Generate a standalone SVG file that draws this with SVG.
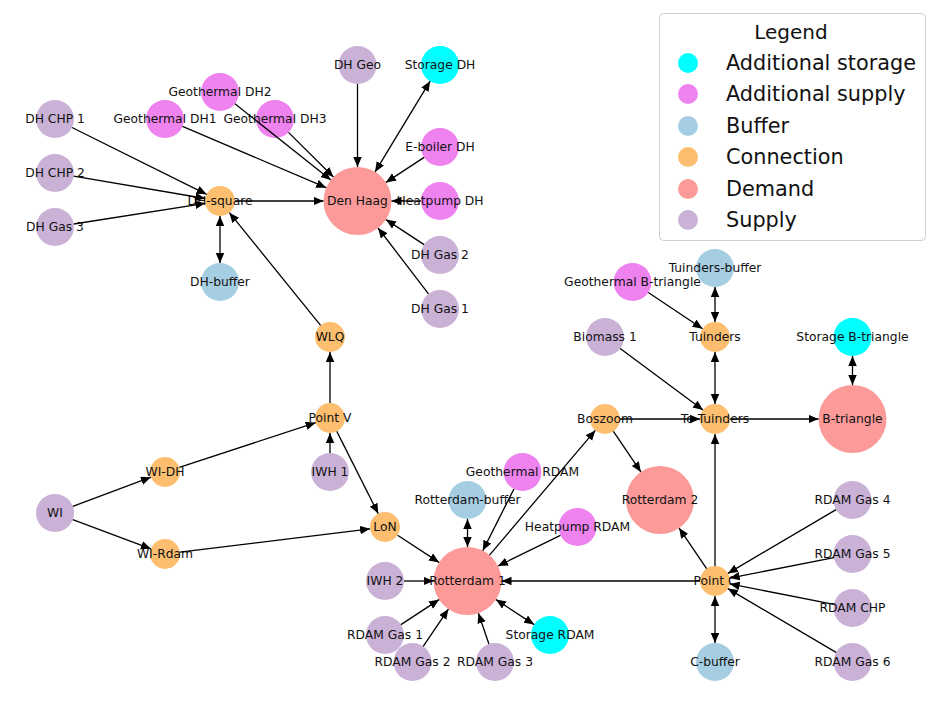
<svg xmlns="http://www.w3.org/2000/svg" width="940" height="702" viewBox="0 0 940 702">
<style>
text{font-family:"DejaVu Sans","Liberation Sans",sans-serif;fill:#111}
.lbl{font-size:12.3px;text-anchor:middle;dominant-baseline:central}
.leg{font-size:20.8px;dominant-baseline:central}
.sup{fill:#cab2d6}.add{fill:#ee82ee}.buf{fill:#a6cee3}.con{fill:#fdbf6f}.dem{fill:#fb9a99}.sto{fill:#00ffff}
#edges line{stroke:#000;stroke-width:1.3;marker-end:url(#ah)}
#edges line.bi{marker-start:url(#ah)}
</style>
<defs>
<marker id="ah" markerUnits="userSpaceOnUse" markerWidth="11" markerHeight="9" refX="10" refY="4.25" orient="auto-start-reverse"><path d="M0,0 L10,4.25 L0,8.5 z" fill="#000"/></marker>
</defs>
<rect width="940" height="702" fill="#fff"/>
<g id="nodes">
<g id="n-dhchp1"><circle class="sup" cx="55" cy="119" r="19"/><text class="lbl" x="55" y="119">DH CHP 1</text></g>
<g id="n-dhchp2"><circle class="sup" cx="55" cy="173" r="19"/><text class="lbl" x="55" y="173">DH CHP 2</text></g>
<g id="n-dhgas3"><circle class="sup" cx="55" cy="227" r="19"/><text class="lbl" x="55" y="227">DH Gas 3</text></g>
<g id="n-geodh2"><circle class="add" cx="220" cy="92" r="19"/><text class="lbl" x="220" y="92">Geothermal DH2</text></g>
<g id="n-geodh1"><circle class="add" cx="165" cy="119" r="19"/><text class="lbl" x="165" y="119">Geothermal DH1</text></g>
<g id="n-geodh3"><circle class="add" cx="275" cy="119" r="19"/><text class="lbl" x="275" y="119">Geothermal DH3</text></g>
<g id="n-dhsquare"><circle class="con" cx="220" cy="201" r="15"/><text class="lbl" x="220" y="201">DH-square</text></g>
<g id="n-dhbuffer"><circle class="buf" cx="220" cy="282" r="19"/><text class="lbl" x="220" y="282">DH-buffer</text></g>
<g id="n-dhgeo"><circle class="sup" cx="357.5" cy="65" r="19"/><text class="lbl" x="357.5" y="65">DH Geo</text></g>
<g id="n-storagedh"><circle class="sto" cx="440" cy="65" r="19"/><text class="lbl" x="440" y="65">Storage DH</text></g>
<g id="n-eboilerdh"><circle class="add" cx="440" cy="147" r="19"/><text class="lbl" x="440" y="147">E-boiler DH</text></g>
<g id="n-denhaag"><circle class="dem" cx="357.5" cy="201" r="34"/><text class="lbl" x="357.5" y="201">Den Haag</text></g>
<g id="n-heatpumpdh"><circle class="add" cx="440" cy="201" r="19"/><text class="lbl" x="440" y="201">Heatpump DH</text></g>
<g id="n-dhgas2"><circle class="sup" cx="440" cy="255" r="19"/><text class="lbl" x="440" y="255">DH Gas 2</text></g>
<g id="n-dhgas1"><circle class="sup" cx="440" cy="309" r="19"/><text class="lbl" x="440" y="309">DH Gas 1</text></g>
<g id="n-wlq"><circle class="con" cx="330" cy="337" r="15"/><text class="lbl" x="330" y="337">WLQ</text></g>
<g id="n-pointv"><circle class="con" cx="330" cy="418" r="15"/><text class="lbl" x="330" y="418">Point V</text></g>
<g id="n-iwh1"><circle class="sup" cx="330" cy="472" r="19"/><text class="lbl" x="330" y="472">IWH 1</text></g>
<g id="n-widh"><circle class="con" cx="165" cy="472" r="15"/><text class="lbl" x="165" y="472">WI-DH</text></g>
<g id="n-wi"><circle class="sup" cx="55" cy="513" r="19"/><text class="lbl" x="55" y="513">WI</text></g>
<g id="n-wirdam"><circle class="con" cx="165" cy="554" r="15"/><text class="lbl" x="165" y="554">WI-Rdam</text></g>
<g id="n-lon"><circle class="con" cx="385" cy="527" r="15"/><text class="lbl" x="385" y="527">LoN</text></g>
<g id="n-geordam"><circle class="add" cx="522.5" cy="472" r="19"/><text class="lbl" x="522.5" y="472">Geothermal RDAM</text></g>
<g id="n-rotterdambuffer"><circle class="buf" cx="467.5" cy="500" r="19"/><text class="lbl" x="467.5" y="500">Rotterdam-buffer</text></g>
<g id="n-heatpumprdam"><circle class="add" cx="577.5" cy="527" r="19"/><text class="lbl" x="577.5" y="527">Heatpump RDAM</text></g>
<g id="n-rotterdam1"><circle class="dem" cx="467.5" cy="581" r="34"/><text class="lbl" x="467.5" y="581">Rotterdam 1</text></g>
<g id="n-iwh2"><circle class="sup" cx="385" cy="581" r="19"/><text class="lbl" x="385" y="581">IWH 2</text></g>
<g id="n-rdamgas1"><circle class="sup" cx="385" cy="635" r="19"/><text class="lbl" x="385" y="635">RDAM Gas 1</text></g>
<g id="n-rdamgas2"><circle class="sup" cx="412.5" cy="662" r="19"/><text class="lbl" x="412.5" y="662">RDAM Gas 2</text></g>
<g id="n-rdamgas3"><circle class="sup" cx="495" cy="662" r="19"/><text class="lbl" x="495" y="662">RDAM Gas 3</text></g>
<g id="n-storagerdam"><circle class="sto" cx="550" cy="635" r="19"/><text class="lbl" x="550" y="635">Storage RDAM</text></g>
<g id="n-boszoom"><circle class="con" cx="605" cy="419" r="15"/><text class="lbl" x="605" y="419">Boszoom</text></g>
<g id="n-rotterdam2"><circle class="dem" cx="660" cy="500" r="34"/><text class="lbl" x="660" y="500">Rotterdam 2</text></g>
<g id="n-pointc"><circle class="con" cx="715" cy="581" r="15"/><text class="lbl" x="715" y="581">Point C</text></g>
<g id="n-cbuffer"><circle class="buf" cx="715" cy="662" r="19"/><text class="lbl" x="715" y="662">C-buffer</text></g>
<g id="n-rdamgas4"><circle class="sup" cx="852.5" cy="500" r="19"/><text class="lbl" x="852.5" y="500">RDAM Gas 4</text></g>
<g id="n-rdamgas5"><circle class="sup" cx="852.5" cy="554" r="19"/><text class="lbl" x="852.5" y="554">RDAM Gas 5</text></g>
<g id="n-rdamchp"><circle class="sup" cx="852.5" cy="608" r="19"/><text class="lbl" x="852.5" y="608">RDAM CHP</text></g>
<g id="n-rdamgas6"><circle class="sup" cx="852.5" cy="662" r="19"/><text class="lbl" x="852.5" y="662">RDAM Gas 6</text></g>
<g id="n-totuinders"><circle class="con" cx="715" cy="419" r="15"/><text class="lbl" x="715" y="419">To Tuinders</text></g>
<g id="n-tuinders"><circle class="con" cx="715" cy="337" r="15"/><text class="lbl" x="715" y="337">Tuinders</text></g>
<g id="n-geobtriangle"><circle class="add" cx="632.5" cy="282" r="19"/><text class="lbl" x="632.5" y="282">Geothermal B-triangle</text></g>
<g id="n-tuindersbuffer"><circle class="buf" cx="715" cy="268" r="19"/><text class="lbl" x="715" y="268">Tuinders-buffer</text></g>
<g id="n-biomass1"><circle class="sup" cx="605" cy="337" r="19"/><text class="lbl" x="605" y="337">Biomass 1</text></g>
<g id="n-storagebtriangle"><circle class="sto" cx="852.5" cy="337" r="19"/><text class="lbl" x="852.5" y="337">Storage B-triangle</text></g>
<g id="n-btriangle"><circle class="dem" cx="852.5" cy="419" r="34"/><text class="lbl" x="852.5" y="419">B-triangle</text></g>
</g>
<g id="edges">
<line x1="72" y1="127.5" x2="206.6" y2="194.3"/>
<line x1="73.7" y1="176.2" x2="205.2" y2="198.5"/>
<line x1="73.8" y1="224" x2="205.2" y2="203.3"/>
<line x1="235" y1="201" x2="323.5" y2="201"/>
<line class="bi" x1="220" y1="216" x2="220" y2="263"/>
<line x1="320.6" y1="325.3" x2="229.4" y2="212.7"/>
<line x1="182.5" y1="126.4" x2="326.2" y2="187.7"/>
<line x1="234.9" y1="103.8" x2="330.9" y2="179.9"/>
<line x1="288.5" y1="132.4" x2="333.4" y2="177"/>
<line x1="357.5" y1="84" x2="357.5" y2="167"/>
<line class="bi" x1="430.1" y1="81.2" x2="375.1" y2="171.9"/>
<line x1="424.1" y1="157.4" x2="386" y2="182.4"/>
<line x1="421" y1="201" x2="391.5" y2="201"/>
<line x1="424.1" y1="244.6" x2="386" y2="219.6"/>
<line x1="428.5" y1="293.9" x2="378.1" y2="228"/>
<line x1="330" y1="403" x2="330" y2="352"/>
<line x1="330" y1="453" x2="330" y2="433"/>
<line x1="179.3" y1="467.3" x2="315.7" y2="422.7"/>
<line x1="72.8" y1="506.4" x2="150.9" y2="477.2"/>
<line x1="72.8" y1="519.6" x2="150.9" y2="548.8"/>
<line x1="179.9" y1="552.2" x2="370.1" y2="528.8"/>
<line x1="336.8" y1="431.4" x2="378.2" y2="513.6"/>
<line x1="397.6" y1="535.2" x2="439.1" y2="562.4"/>
<line class="bi" x1="467.5" y1="519" x2="467.5" y2="547"/>
<line x1="513.9" y1="489" x2="482.8" y2="550.6"/>
<line x1="560.4" y1="535.4" x2="498" y2="566"/>
<line x1="489.5" y1="555.1" x2="595.3" y2="430.4"/>
<line x1="613.4" y1="431.4" x2="640.9" y2="471.9"/>
<line x1="620" y1="419" x2="700" y2="419"/>
<line x1="700" y1="581" x2="501.5" y2="581"/>
<line x1="706.6" y1="568.6" x2="679.1" y2="528.1"/>
<line x1="715" y1="566" x2="715" y2="434"/>
<line class="bi" x1="715" y1="596" x2="715" y2="643"/>
<line x1="836.1" y1="509.6" x2="727.9" y2="573.4"/>
<line x1="833.9" y1="557.7" x2="729.7" y2="578.1"/>
<line x1="833.9" y1="604.3" x2="729.7" y2="583.9"/>
<line x1="836.1" y1="652.4" x2="727.9" y2="588.6"/>
<line x1="404" y1="581" x2="433.5" y2="581"/>
<line x1="400.9" y1="624.6" x2="439.1" y2="599.6"/>
<line x1="423.2" y1="646.3" x2="448.4" y2="609.1"/>
<line x1="488.9" y1="644" x2="478.4" y2="613.2"/>
<line class="bi" x1="534.1" y1="624.6" x2="496" y2="599.6"/>
<line x1="730" y1="419" x2="818.5" y2="419"/>
<line class="bi" x1="715" y1="404" x2="715" y2="352"/>
<line class="bi" x1="715" y1="322" x2="715" y2="287"/>
<line x1="648.3" y1="292.5" x2="702.5" y2="328.7"/>
<line x1="620.2" y1="348.4" x2="703" y2="410"/>
<line class="bi" x1="852.5" y1="356" x2="852.5" y2="385"/>
</g>
<g id="legend">
<rect x="659.5" y="13.5" width="266" height="227" rx="4" fill="#fff" fill-opacity="0.8" stroke="#d0d0d0"/>
<text class="leg" x="791" y="32" text-anchor="middle" style="font-size:20px">Legend</text>
<circle class="sto" cx="688" cy="63" r="10"/><text class="leg" x="726" y="63">Additional storage</text>
<circle class="add" cx="688" cy="94" r="10"/><text class="leg" x="726" y="94">Additional supply</text>
<circle class="buf" cx="688" cy="126" r="10"/><text class="leg" x="726" y="126">Buffer</text>
<circle class="con" cx="688" cy="157" r="10"/><text class="leg" x="726" y="157">Connection</text>
<circle class="dem" cx="688" cy="189" r="10"/><text class="leg" x="726" y="189">Demand</text>
<circle class="sup" cx="688" cy="220" r="10"/><text class="leg" x="726" y="220">Supply</text>
</g>
</svg>
